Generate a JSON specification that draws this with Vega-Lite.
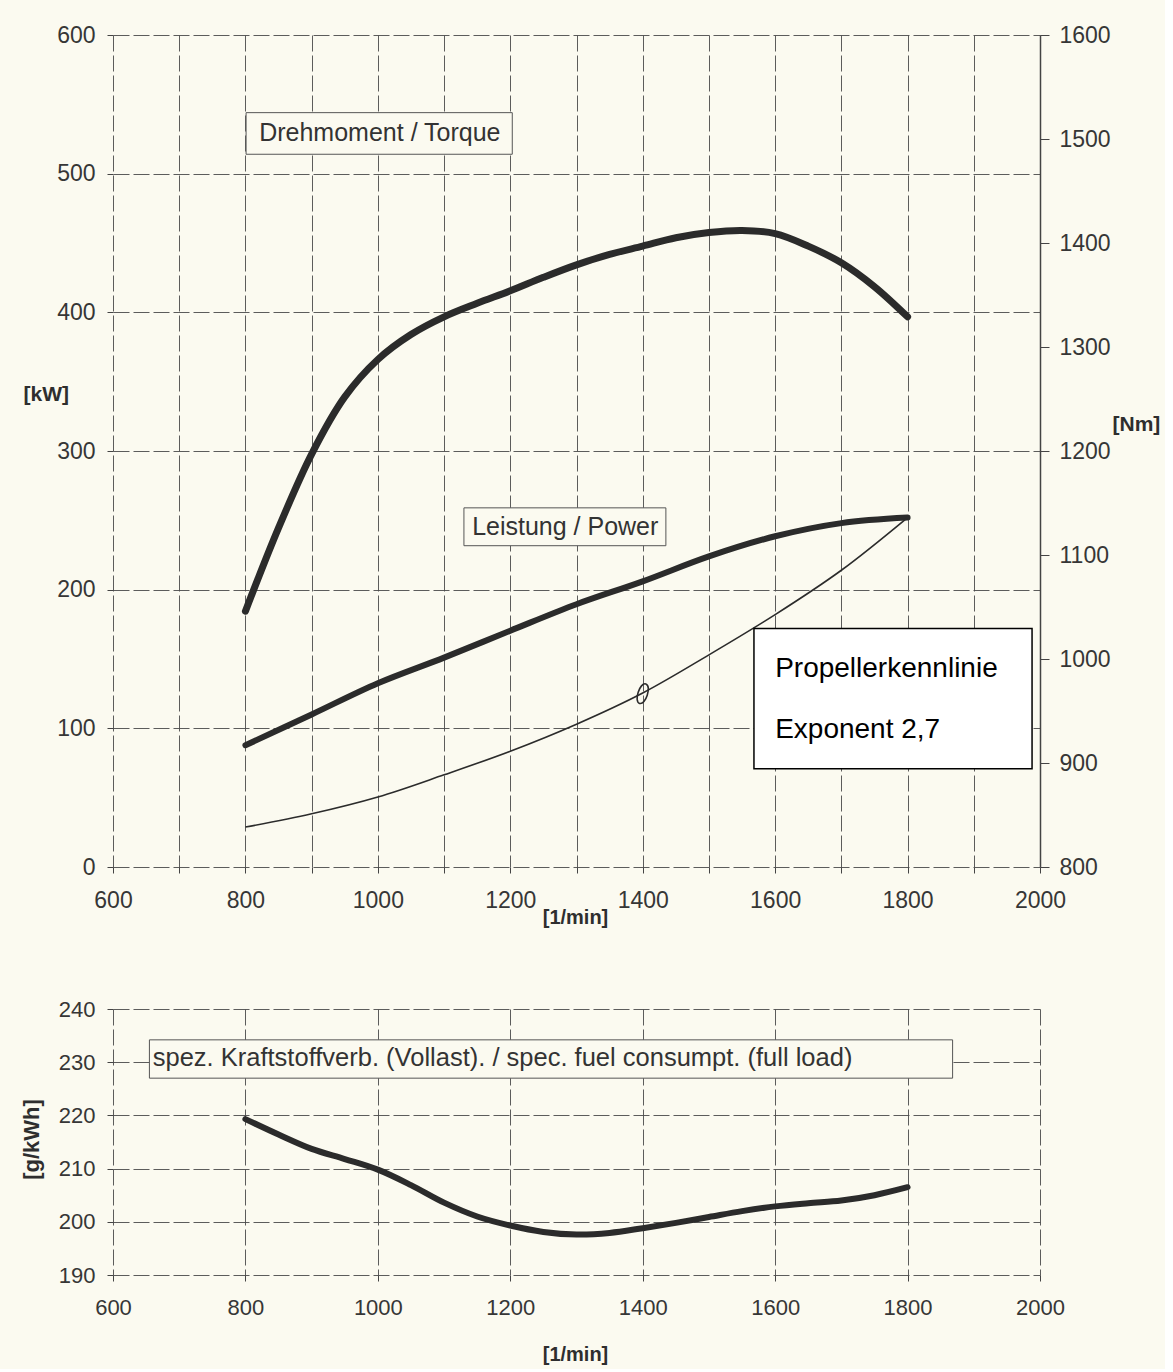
{
  "$schema": "https://vega.github.io/schema/vega-lite/v6.json",
  "background": "#fbfaf0",
  "padding": {"left": 19, "top": 24, "right": 5, "bottom": 5},
  "config": {
    "font": "Liberation Sans",
    "view": {"stroke": null},
    "axis": {
      "labelFont": "Liberation Sans",
      "titleFont": "Liberation Sans",
      "labelColor": "#363636",
      "titleColor": "#2e2e2e",
      "titleFontWeight": "bold",
      "labelFlush": false,
      "labelOverlap": false,
      "gridColor": "#4a4a4a",
      "gridDash": [16, 4],
      "gridWidth": 1,
      "gridOpacity": 0.9,
      "domainColor": "#444444",
      "tickColor": "#444444",
      "tickWidth": 1
    }
  },
  "datasets": {
    "torque": [
      {"rpm": 800, "nm": 1046}, {"rpm": 850, "nm": 1126}, {"rpm": 900, "nm": 1197},
      {"rpm": 950, "nm": 1252}, {"rpm": 1000, "nm": 1288}, {"rpm": 1050, "nm": 1312},
      {"rpm": 1100, "nm": 1329}, {"rpm": 1150, "nm": 1342}, {"rpm": 1200, "nm": 1354},
      {"rpm": 1250, "nm": 1367}, {"rpm": 1300, "nm": 1379}, {"rpm": 1350, "nm": 1389},
      {"rpm": 1400, "nm": 1397}, {"rpm": 1450, "nm": 1405}, {"rpm": 1500, "nm": 1410},
      {"rpm": 1550, "nm": 1412}, {"rpm": 1600, "nm": 1409}, {"rpm": 1650, "nm": 1397},
      {"rpm": 1700, "nm": 1381}, {"rpm": 1750, "nm": 1358}, {"rpm": 1800, "nm": 1329}
    ],
    "power": [
      {"rpm": 800, "kw": 87.8}, {"rpm": 900, "kw": 110}, {"rpm": 1000, "kw": 132.5},
      {"rpm": 1100, "kw": 151}, {"rpm": 1200, "kw": 170.4}, {"rpm": 1300, "kw": 189.5},
      {"rpm": 1400, "kw": 206}, {"rpm": 1500, "kw": 224}, {"rpm": 1600, "kw": 238.5},
      {"rpm": 1700, "kw": 248}, {"rpm": 1800, "kw": 252}
    ],
    "propeller": [
      {"rpm": 800, "kw": 28.8}, {"rpm": 900, "kw": 38.4}, {"rpm": 1000, "kw": 50.5},
      {"rpm": 1100, "kw": 66.5}, {"rpm": 1200, "kw": 83.5}, {"rpm": 1300, "kw": 103},
      {"rpm": 1400, "kw": 125.5}, {"rpm": 1500, "kw": 153}, {"rpm": 1600, "kw": 182},
      {"rpm": 1700, "kw": 214}, {"rpm": 1800, "kw": 252}
    ],
    "marker": [{"rpm": 1400, "kw": 125}],
    "boxesTop": [
      {"rpm": 801, "rpm2": 1203, "kw": 514, "kw2": 544},
      {"rpm": 1130, "rpm2": 1435, "kw": 231.7, "kw2": 259}
    ],
    "labelsTop": [
      {"rpm": 1003, "kw": 529, "label": "Drehmoment / Torque"},
      {"rpm": 1283, "kw": 245.3, "label": "Leistung / Power"}
    ],
    "propBox": [{"rpm": 1568, "rpm2": 1988, "kw": 70.8, "kw2": 172}],
    "propLabels": [
      {"rpm": 1600, "kw": 142.5, "label": "Propellerkennlinie"},
      {"rpm": 1600, "kw": 98.5, "label": "Exponent 2,7"}
    ],
    "fuel": [
      {"rpm": 800, "g": 219.3}, {"rpm": 850, "g": 216.4}, {"rpm": 900, "g": 213.7},
      {"rpm": 950, "g": 211.8}, {"rpm": 1000, "g": 209.8}, {"rpm": 1050, "g": 206.9},
      {"rpm": 1100, "g": 203.6}, {"rpm": 1150, "g": 201}, {"rpm": 1200, "g": 199.3},
      {"rpm": 1250, "g": 198.1}, {"rpm": 1300, "g": 197.6}, {"rpm": 1350, "g": 197.9},
      {"rpm": 1400, "g": 198.8}, {"rpm": 1450, "g": 199.8}, {"rpm": 1500, "g": 200.9},
      {"rpm": 1550, "g": 202}, {"rpm": 1600, "g": 202.9}, {"rpm": 1650, "g": 203.5},
      {"rpm": 1700, "g": 204}, {"rpm": 1750, "g": 205}, {"rpm": 1800, "g": 206.5}
    ],
    "fuelBox": [{"rpm": 655, "rpm2": 1868, "g": 227, "g2": 234.2}],
    "fuelLabel": [{"rpm": 660, "g": 230.8, "label": "spez. Kraftstoffverb. (Vollast). / spec. fuel consumpt.  (full load)"}]
  },
  "spacing": 142,
  "bounds": "flush",
  "vconcat": [
    {
      "width": 927,
      "height": 832,
      "layer": [
        {
          "layer": [
            {
              "data": {"name": "power"},
              "mark": {"type": "line", "interpolate": "catmull-rom", "strokeWidth": 6, "color": "#2b2b2b", "strokeCap": "round"},
              "encoding": {
                "x": {
                  "field": "rpm", "type": "quantitative",
                  "scale": {"domain": [600, 2000], "nice": false},
                  "axis": {
                    "values": [600, 700, 800, 900, 1000, 1100, 1200, 1300, 1400, 1500, 1600, 1700, 1800, 1900, 2000],
                    "format": "d",
                    "labelExpr": "datum.value % 200 == 0 ? datum.label : ''",
                    "labelFontSize": 23, "labelPadding": 16, "tickSize": 6,
                    "domain": false, "grid": true,
                    "title": "[1/min]", "titleFontSize": 20,
                    "titleX": 462, "titleY": 50, "titleAlign": "center", "titleBaseline": "middle"
                  }
                },
                "y": {
                  "field": "kw", "type": "quantitative",
                  "scale": {"domain": [0, 600], "nice": false},
                  "axis": {
                    "values": [0, 100, 200, 300, 400, 500, 600],
                    "labelFontSize": 23, "labelPadding": 12, "tickSize": 6,
                    "domain": false, "grid": true,
                    "title": "[kW]", "titleFontSize": 21, "titleAngle": 0,
                    "titleX": -90, "titleY": 359, "titleAlign": "left", "titleBaseline": "middle"
                  }
                }
              }
            },
            {
              "data": {"name": "propeller"},
              "mark": {"type": "line", "interpolate": "catmull-rom", "strokeWidth": 1.6, "color": "#2b2b2b"},
              "encoding": {
                "x": {"field": "rpm", "type": "quantitative"},
                "y": {"field": "kw", "type": "quantitative"}
              }
            },
            {
              "data": {"name": "marker"},
              "mark": {"type": "point", "shape": "M0,-1C0.62,-1 0.62,1 0,1C-0.62,1 -0.62,-1 0,-1Z", "size": 420, "filled": false, "strokeWidth": 1.6, "color": "#2b2b2b", "angle": 18, "opacity": 1},
              "encoding": {
                "x": {"field": "rpm", "type": "quantitative"},
                "y": {"field": "kw", "type": "quantitative"}
              }
            },
            {
              "data": {"name": "boxesTop"},
              "mark": {"type": "rect", "fill": "#fbfaf0", "stroke": "#555555", "strokeWidth": 1},
              "encoding": {
                "x": {"field": "rpm", "type": "quantitative"},
                "x2": {"field": "rpm2"},
                "y": {"field": "kw", "type": "quantitative"},
                "y2": {"field": "kw2"}
              }
            },
            {
              "data": {"name": "labelsTop"},
              "mark": {"type": "text", "fontSize": 25, "color": "#333333", "align": "center", "baseline": "middle", "font": "Liberation Sans"},
              "encoding": {
                "x": {"field": "rpm", "type": "quantitative"},
                "y": {"field": "kw", "type": "quantitative"},
                "text": {"field": "label"}
              }
            },
            {
              "data": {"name": "propBox"},
              "mark": {"type": "rect", "fill": "#ffffff", "stroke": "#000000", "strokeWidth": 1.5},
              "encoding": {
                "x": {"field": "rpm", "type": "quantitative"},
                "x2": {"field": "rpm2"},
                "y": {"field": "kw", "type": "quantitative"},
                "y2": {"field": "kw2"}
              }
            },
            {
              "data": {"name": "propLabels"},
              "mark": {"type": "text", "fontSize": 28, "color": "#000000", "align": "left", "baseline": "middle", "font": "Liberation Sans"},
              "encoding": {
                "x": {"field": "rpm", "type": "quantitative"},
                "y": {"field": "kw", "type": "quantitative"},
                "text": {"field": "label"}
              }
            }
          ]
        },
        {
          "data": {"name": "torque"},
          "mark": {"type": "line", "interpolate": "catmull-rom", "strokeWidth": 7, "color": "#2b2b2b", "strokeCap": "round"},
          "encoding": {
            "x": {"field": "rpm", "type": "quantitative"},
            "y": {
              "field": "nm", "type": "quantitative",
              "scale": {"domain": [800, 1600], "nice": false},
              "axis": {
                "orient": "right",
                "values": [800, 900, 1000, 1100, 1200, 1300, 1400, 1500, 1600],
                "format": "d",
                "labelFontSize": 23, "labelPadding": 10, "tickSize": 9,
                "domain": true, "domainWidth": 1.5, "grid": false,
                "title": "[Nm]", "titleFontSize": 21, "titleAngle": 0,
                "titleX": 72, "titleY": 389, "titleAlign": "left", "titleBaseline": "middle"
              }
            }
          }
        }
      ],
      "resolve": {"scale": {"y": "independent"}, "axis": {"y": "independent"}}
    },
    {
      "width": 927,
      "height": 266,
      "layer": [
        {
          "data": {"name": "fuelBox"},
          "mark": {"type": "rect", "fill": "#fbfaf0", "stroke": "#555555", "strokeWidth": 1},
          "encoding": {
            "x": {
              "field": "rpm", "type": "quantitative",
              "scale": {"domain": [600, 2000], "nice": false},
              "axis": {
                "values": [600, 800, 1000, 1200, 1400, 1600, 1800, 2000],
                "format": "d",
                "labelFontSize": 22, "labelPadding": 16, "tickSize": 6,
                "domain": false, "grid": true,
                "title": "[1/min]", "titleFontSize": 20,
                "titleX": 462, "titleY": 79, "titleAlign": "center", "titleBaseline": "middle"
              }
            },
            "x2": {"field": "rpm2"},
            "y": {
              "field": "g", "type": "quantitative",
              "scale": {"domain": [190, 240], "nice": false},
              "axis": {
                "values": [190, 200, 210, 220, 230, 240],
                "labelFontSize": 22, "labelPadding": 12, "tickSize": 6,
                "domain": false, "grid": true,
                "title": "[g/kWh]", "titleFontSize": 22, "titleAngle": -90,
                "titleX": -82, "titleY": 130, "titleAlign": "center", "titleBaseline": "middle"
              }
            },
            "y2": {"field": "g2"}
          }
        },
        {
          "data": {"name": "fuelLabel"},
          "mark": {"type": "text", "fontSize": 25.5, "color": "#333333", "align": "left", "baseline": "middle", "font": "Liberation Sans"},
          "encoding": {
            "x": {"field": "rpm", "type": "quantitative"},
            "y": {"field": "g", "type": "quantitative"},
            "text": {"field": "label"}
          }
        },
        {
          "data": {"name": "fuel"},
          "mark": {"type": "line", "interpolate": "catmull-rom", "strokeWidth": 6, "color": "#2b2b2b", "strokeCap": "round"},
          "encoding": {
            "x": {"field": "rpm", "type": "quantitative"},
            "y": {"field": "g", "type": "quantitative"}
          }
        }
      ]
    }
  ]
}
